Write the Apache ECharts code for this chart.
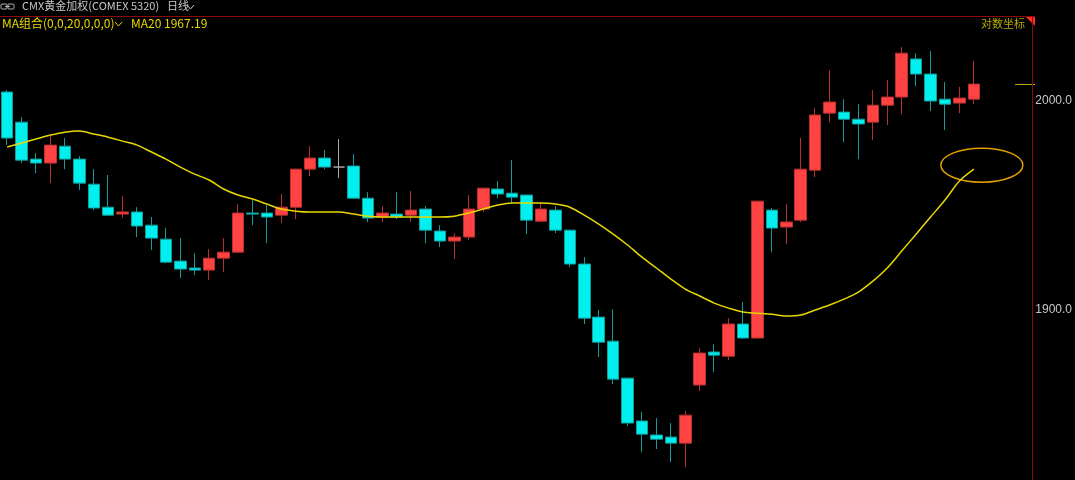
<!DOCTYPE html>
<html><head><meta charset="utf-8">
<script src="https://cdn.jsdelivr.net/npm/echarts@6/dist/echarts.min.js"></script>
<style>html,body{margin:0;padding:0;background:#000;overflow:hidden;width:1075px;height:480px}#c{width:1075px;height:520px}</style>
</head><body><div id="c"></div>
<script>
// ---- data ----
const categories = Array.from({length: 68}, (_, i) => 'K' + (i + 1));
const opens  = [2004.1,1989.7,1972.0,1970.1,1978.2,1972.0,1960.0,1949.0,1945.7,1946.7,
                1940.4,1933.7,1923.2,1919.9,1918.9,1924.6,1927.5,1946.2,1946.2,1945.2,
                1949.0,1967.2,1972.5,1968.2,1968.7,1953.3,1944.3,1945.7,1945.2,1948.1,
                1937.6,1932.8,1934.7,1948.1,1957.7,1955.7,1954.8,1942.3,1947.6,1938.0,
                1921.8,1896.4,1884.9,1867.2,1846.7,1840.0,1839.0,1836.1,1863.9,1879.7,
                1877.7,1893.1,1886.4,1947.6,1939.5,1942.8,1966.7,1994.0,1994.5,1991.1,
                1989.7,1997.8,2001.7,2019.9,2012.7,2000.7,1998.8,2000.7];
const closes = [1982.1,1971.5,1970.1,1978.7,1972.0,1960.5,1948.6,1945.2,1946.7,1940.0,
                1934.2,1922.7,1919.4,1918.9,1924.6,1927.5,1946.2,1945.7,1944.3,1949.0,
                1967.2,1972.5,1968.2,1968.2,1953.3,1943.8,1946.2,1944.3,1947.6,1938.0,
                1932.8,1934.7,1948.1,1958.1,1955.3,1953.8,1942.8,1948.1,1938.0,1921.8,
                1895.9,1884.4,1866.7,1845.7,1840.4,1838.0,1836.1,1849.5,1879.2,1878.2,
                1893.1,1886.4,1951.9,1939.0,1941.9,1967.2,1993.1,1999.3,1991.1,1988.8,
                1997.8,2001.7,2022.7,2012.7,1999.8,1998.3,2001.2,2007.9];
const lows   = [1978.7,1970.1,1965.3,1960.5,1967.2,1957.2,1947.6,1945.0,1943.8,1934.7,
                1928.5,1922.2,1915.1,1916.5,1914.1,1917.9,1927.0,1940.4,1931.8,1941.4,
                1943.3,1963.9,1967.2,1962.9,1952.9,1941.9,1941.9,1943.3,1941.9,1931.8,
                1929.9,1924.2,1933.3,1946.7,1953.3,1950.9,1936.1,1942.0,1936.6,1920.3,
                1893.1,1877.3,1864.4,1844.3,1831.8,1833.3,1827.0,1824.6,1861.0,1870.1,
                1875.8,1885.9,1886.2,1927.5,1931.3,1941.9,1963.4,1989.7,1980.1,1972.0,
                1981.1,1988.3,1993.5,2006.9,1995.0,1985.9,1994.0,1998.3];
const highs  = [2005.0,1992.1,1974.9,1983.0,1982.1,1973.4,1967.2,1964.4,1954.3,1949.0,
                1944.3,1939.0,1934.2,1927.0,1928.9,1934.2,1950.5,1952.4,1950.0,1955.3,
                1967.4,1978.2,1976.3,1981.6,1974.4,1956.2,1949.5,1956.2,1956.7,1949.5,
                1940.4,1936.6,1954.8,1958.3,1961.5,1971.5,1955.0,1951.4,1949.5,1938.2,
                1925.1,1899.8,1900.2,1867.4,1851.0,1848.1,1845.7,1851.4,1881.6,1883.5,
                1895.9,1903.6,1952.1,1948.6,1950.5,1982.1,1996.4,2014.6,2000.7,1998.3,
                2005.0,2009.8,2025.6,2022.7,2023.7,2008.9,2006.5,2018.9];
const ma20   = [1977.8,1979.7,1981.6,1983.5,1984.9,1985.4,1984.0,1982.5,1980.6,1978.7,
                1975.4,1972.0,1968.2,1964.8,1962.0,1957.7,1954.8,1952.9,1950.5,1948.1,
                1947.1,1946.7,1946.7,1946.7,1945.7,1944.7,1944.3,1944.3,1944.3,1944.3,
                1944.3,1944.7,1946.2,1948.1,1950.0,1951.0,1951.0,1951.0,1950.5,1949.0,
                1945.2,1940.9,1936.1,1930.9,1925.1,1919.9,1914.6,1909.8,1906.5,1903.1,
                1900.7,1898.8,1898.3,1897.8,1896.9,1897.4,1899.8,1902.2,1905.0,1908.4,
                1913.6,1919.9,1928.0,1936.1,1944.3,1952.4,1961.5,1967.19];
const yTicks = [1900, 2000];
const titleText = 'CMX黄金加权(COMEX 5320)';
const periodText = '日线';
const maGroupText = 'MA组合(0,0,20,0,0,0)';
const maLabel = 'MA20';
const logText = '对数坐标';

const ohlc = opens.map((o, i) => [o, closes[i], lows[i], highs[i]]);

const chart = echarts.init(document.getElementById('c'), null, {renderer: 'canvas', width: 1075, height: 520});
const cjk = '"Noto Sans CJK SC", "Noto Sans", sans-serif';

chart.setOption({
  backgroundColor: '#000',
  animation: false,
  grid: {left: -2.25, top: 17, width: 986, height: 501.6, containLabel: false},
  xAxis: {
    type: 'category', data: categories, boundaryGap: true,
    axisLine: {show: false}, axisTick: {show: false}, axisLabel: {show: false}, splitLine: {show: false}
  },
  yAxis: {
    type: 'value', position: 'right', offset: 51.25,
    min: 1800, max: 2040, interval: 100,
    axisLine: {show: true, lineStyle: {color: '#8a0a0a', width: 1}},
    axisTick: {show: false},
    splitLine: {show: false},
    axisLabel: {
      margin: 3, color: '#c8c8c8', fontSize: 12, fontFamily: 'Arial, "Liberation Sans", sans-serif',
      formatter: v => yTicks.includes(v) ? v.toFixed(1) : ''
    }
  },
  series: [
    {
      type: 'candlestick', data: ohlc, barWidth: 12,
      itemStyle: {
        color: '#ff4242', color0: '#00f0f0',
        borderColor: '#b83030', borderColor0: '#129c9c',
        borderColorDoji: '#a8a8a8', borderWidth: 1
      }
    },
    {
      type: 'line', data: ma20, smooth: 0.3, showSymbol: false, symbol: 'none',
      lineStyle: {color: '#e8d800', width: 1.5}, z: 5
    }
  ],
  graphic: [
    {type: 'line', shape: {x1: 0, y1: 16.5, x2: 1035, y2: 16.5}, style: {stroke: '#8a0a0a', lineWidth: 1}},
    {type: 'polygon', shape: {points: [[1026, 17], [1035, 17], [1035, 26]]}, style: {fill: '#ff2a2a'}},
    {type: 'rect', shape: {x: 1, y: 4, width: 6, height: 5, r: 1}, style: {fill: 'none', stroke: '#b0b0b0', lineWidth: 1}},
    {type: 'rect', shape: {x: 8, y: 4, width: 6, height: 5, r: 1}, style: {fill: 'none', stroke: '#b0b0b0', lineWidth: 1}},
    {type: 'line', shape: {x1: 5, y1: 6.5, x2: 10, y2: 6.5}, style: {stroke: '#b0b0b0', lineWidth: 1}},
    {type: 'text', left: 22, top: 0, style: {text: titleText, fill: '#c8c8c8', font: '11px ' + cjk}},
    {type: 'text', left: 167, top: 0, style: {text: periodText, fill: '#c8c8c8', font: '11px ' + cjk}},
    {type: 'polyline', shape: {points: [[187, 5], [190.5, 9], [194, 5]]}, style: {stroke: '#c8c8c8', lineWidth: 1, fill: 'none'}},
    {type: 'text', left: 2, top: 17, style: {text: maGroupText, fill: '#e8d800', font: '12px ' + cjk}},
    {type: 'polyline', shape: {points: [[115, 22], [118.5, 26], [122, 22]]}, style: {stroke: '#e8d800', lineWidth: 1, fill: 'none'}},
    {type: 'text', left: 131, top: 17, style: {text: maLabel + ' ' + ma20[ma20.length - 1].toFixed(2), fill: '#e8d800', font: '12px ' + cjk}},
    {type: 'text', right: 50, top: 18, style: {text: logText, fill: '#b8a800', font: '11px ' + cjk}}
  ]
});

const lastIdx = closes.length - 1;
const pLast = chart.convertToPixel({seriesIndex: 0}, [lastIdx, closes[lastIdx]]);
const pMa = chart.convertToPixel({seriesIndex: 1}, [lastIdx, ma20[lastIdx]]);
chart.setOption({
  graphic: [
    {type: 'line', id: 'lastPx', shape: {x1: 1015, y1: Math.round(pLast[1]) + 0.5, x2: 1035, y2: Math.round(pLast[1]) + 0.5},
     style: {stroke: '#b8a800', lineWidth: 1}},
    {type: 'ellipse', id: 'ring', shape: {cx: pMa[0] + 8, cy: pMa[1] - 4, rx: 41, ry: 17},
     style: {fill: 'none', stroke: '#e0a000', lineWidth: 1.5}}
  ]
});
</script>
</body></html>
